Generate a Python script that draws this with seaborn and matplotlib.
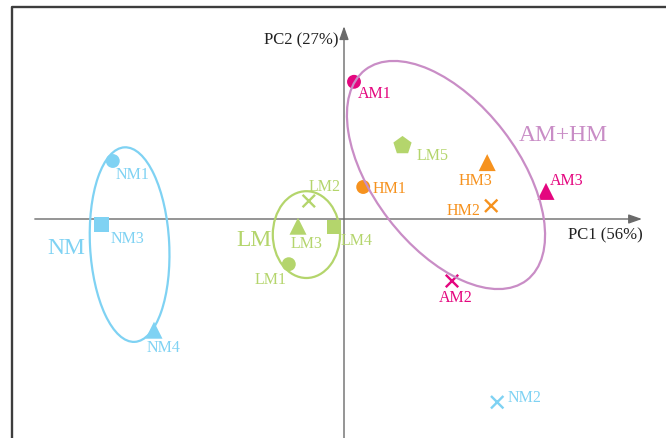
import matplotlib
matplotlib.use("Agg")
import matplotlib.pyplot as plt
import pandas as pd
import seaborn as sns
from matplotlib.patches import Ellipse

# PCA scores of each sample
samples = ["NM1", "NM2", "NM3", "NM4",
           "LM1", "LM2", "LM3", "LM4", "LM5",
           "HM1", "HM2", "HM3",
           "AM1", "AM2", "AM3"]
pc1 = [-5.78, 3.83, -6.06, -4.75,
       -1.38, -0.88, -1.15, -0.25, 1.44,
       0.48, 3.68, 3.58,
       0.25, 2.70, 5.05]
pc2 = [1.45, -4.58, -0.14, -2.78,
       -1.13, 0.45, -0.18, -0.20, 1.85,
       0.80, 0.33, 1.41,
       3.43, -1.55, 0.69]
groups = ["NM", "NM", "NM", "NM",
          "LM", "LM", "LM", "LM", "LM",
          "HM", "HM", "HM",
          "AM", "AM", "AM"]
shapes = ["o", "x", "s", "^",
          "o", "x", "^", "s", "p",
          "o", "x", "^",
          "o", "x", "^"]
pc1_label = "PC1 (56%)"
pc2_label = "PC2 (27%)"

colors = {"NM": "#7fd2f3", "LM": "#b4d56c", "HM": "#f6921e", "AM": "#e4067f"}
ring_color = "#c98dc6"
axis_color = "#6a6a6a"

df = pd.DataFrame({"sample": samples, "pc1": pc1, "pc2": pc2,
                   "group": groups, "shape": shapes})

sns.set_theme(style="white")
plt.rcParams["font.family"] = ["Liberation Serif", "DejaVu Serif"]

fig = plt.figure(figsize=(6.66, 4.39), dpi=100)
ax = fig.add_axes([0, 0, 1, 1])
ax.set_xlim(-8.6, 8.05)
ax.set_ylim(-5.475, 5.5)
ax.axis("off")

# outer frame (left and top edges)
ax.plot([-8.31, -8.31, 8.05], [-5.475, 5.31, 5.31], color="#3d3d3d",
        lw=1.7, solid_capstyle="butt", clip_on=False, zorder=1)

# PC axes with arrowheads
arrow = dict(arrowstyle="-|>,head_length=0.8,head_width=0.28", color=axis_color,
             lw=1.0, shrinkA=0, shrinkB=0, mutation_scale=10)
ax.annotate("", xy=(7.45, 0), xytext=(-7.73, 0), arrowprops=arrow, zorder=2)
ax.annotate("", xy=(0, 4.82), xytext=(0, -5.6), arrowprops=arrow, zorder=2)
ax.text(6.53, -0.39, pc1_label, fontsize=12, color="#222222", ha="center", va="center")
ax.text(-0.14, 4.5, pc2_label, fontsize=12, color="#222222", ha="right", va="center")

palette = {s: colors[g] for s, g in zip(samples, groups)}
marker_sizes = {"o": 100, "s": 110, "^": 150, "p": 190, "x": 80}
for mk, sub in df.groupby("shape"):
    kws = dict(linewidth=1.7) if mk == "x" else dict(linewidth=0)
    sns.scatterplot(data=sub, x="pc1", y="pc2", hue="sample", palette=palette,
                    marker=mk, s=marker_sizes[mk], legend=False, ax=ax,
                    zorder=3, **kws)

# group ellipses, drawn over the markers
ax.add_patch(Ellipse((-5.36, -0.64), 1.98, 4.87, angle=3, fill=False,
                     ec=colors["NM"], lw=1.6, zorder=4))
ax.add_patch(Ellipse((-0.94, -0.39), 1.68, 2.17, angle=0, fill=False,
                     ec=colors["LM"], lw=1.6, zorder=4))
ax.add_patch(Ellipse((2.55, 1.10), 6.63, 3.62, angle=-52.5, fill=False,
                     ec=ring_color, lw=1.6, zorder=4))

# sample labels, offsets in pixels from each point
label_offsets = {
    "NM1": (20, -13), "NM2": (27, 5), "NM3": (26, -13), "NM4": (10, -17),
    "LM1": (-18, -15), "LM2": (16, 15), "LM3": (9, -17), "LM4": (23, -13),
    "LM5": (31, -10), "HM1": (26, -1), "HM2": (-28, -4), "HM3": (-12, -17),
    "AM1": (21, -11), "AM2": (4, -16), "AM3": (21, 11),
}
for s, x, y, g in zip(samples, pc1, pc2, groups):
    ax.annotate(s, (x, y), xytext=label_offsets[s], textcoords="offset pixels",
                fontsize=11.5, color=colors[g], ha="center", va="center", zorder=5)

# group names
ax.text(-6.95, -0.72, "NM", fontsize=17, color=colors["NM"], ha="center", va="center")
ax.text(-2.25, -0.52, "LM", fontsize=17, color=colors["LM"], ha="center", va="center")
ax.text(5.48, 2.10, "AM+HM", fontsize=17, color=ring_color, ha="center", va="center")

fig.savefig("out.png", dpi=100)
